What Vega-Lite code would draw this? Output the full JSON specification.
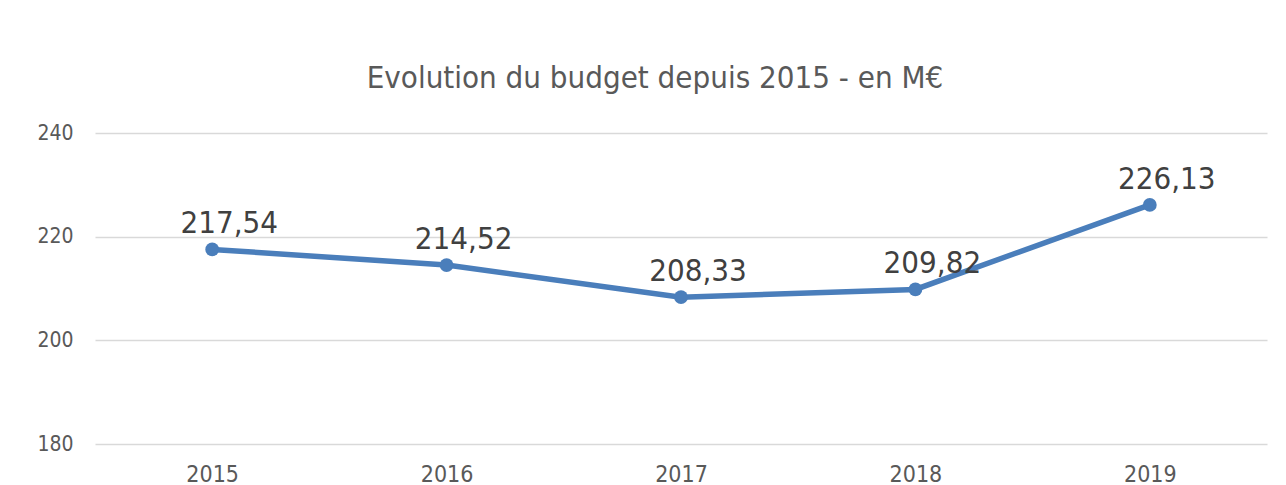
{
  "$schema": "https://vega.github.io/schema/vega-lite/v6.json",
  "autosize": "none",
  "width": 1172,
  "height": 311,
  "padding": {"left": 95, "top": 133, "right": 19, "bottom": 41},
  "background": "white",
  "title": {
    "text": "Evolution du budget depuis 2015 - en M€",
    "font": "DejaVu Sans Condensed",
    "fontSize": 31,
    "fontWeight": "normal",
    "color": "#595959",
    "anchor": "middle",
    "dx": -26,
    "offset": 27
  },
  "data": {
    "values": [
      {"annee": "2015", "budget": 217.54},
      {"annee": "2016", "budget": 214.52},
      {"annee": "2017", "budget": 208.33},
      {"annee": "2018", "budget": 209.82},
      {"annee": "2019", "budget": 226.13}
    ]
  },
  "encoding": {
    "x": {
      "field": "annee",
      "type": "ordinal",
      "scale": {"type": "point", "padding": 0.5},
      "axis": {
        "title": null,
        "labelAngle": 0,
        "domain": false,
        "ticks": false,
        "labelFont": "DejaVu Sans Condensed",
        "labelFontSize": 23,
        "labelColor": "#595959",
        "labelPadding": 19
      }
    },
    "y": {
      "field": "budget",
      "type": "quantitative",
      "scale": {"domain": [180, 240], "nice": false, "zero": false},
      "axis": {
        "title": null,
        "values": [180, 200, 220, 240],
        "domain": false,
        "ticks": false,
        "labelFont": "DejaVu Sans Condensed",
        "labelFontSize": 21,
        "labelColor": "#595959",
        "labelPadding": 22,
        "gridColor": "#d9d9d9",
        "gridWidth": 1.5
      }
    }
  },
  "layer": [
    {
      "mark": {"type": "line", "color": "#4A7EBB", "strokeWidth": 5.5},
      "encoding": {}
    },
    {
      "mark": {"type": "point", "filled": true, "color": "#4A7EBB", "size": 190, "opacity": 1},
      "encoding": {}
    },
    {
      "mark": {
        "type": "text",
        "font": "DejaVu Sans Condensed",
        "fontSize": 31,
        "color": "#404040",
        "baseline": "alphabetic",
        "dx": 17,
        "dy": -16
      },
      "encoding": {
        "text": {"field": "budget", "type": "quantitative", "format": ".2f"}
      }
    }
  ],
  "config": {
    "locale": {"number": {"decimal": ",", "thousands": " ", "grouping": [3], "currency": ["", " €"]}},
    "view": {"stroke": null}
  }
}
